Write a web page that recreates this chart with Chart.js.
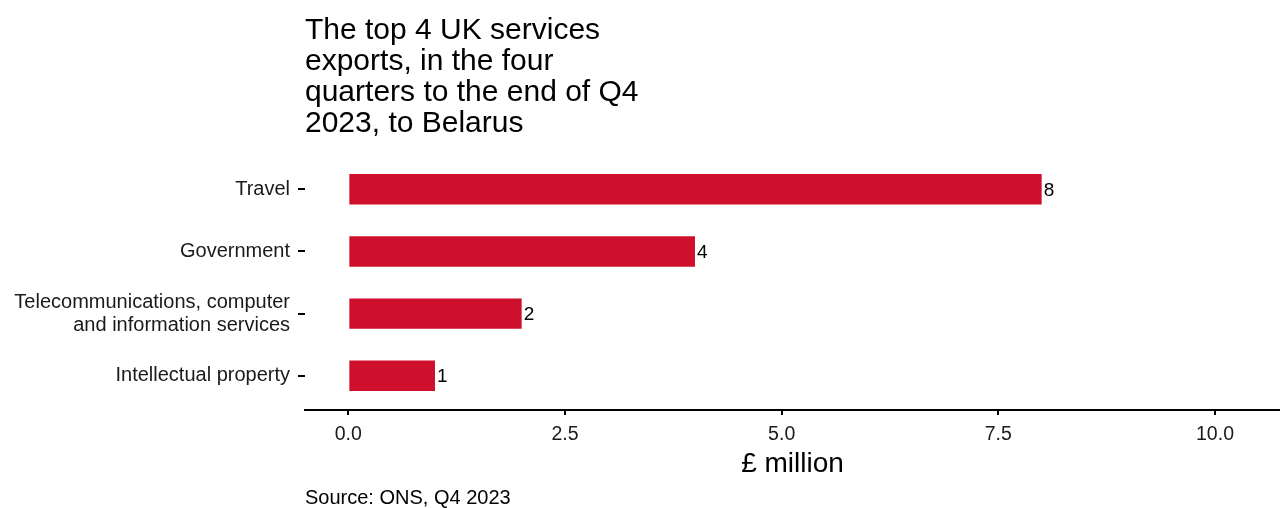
<!DOCTYPE html>
<html>
<head>
<meta charset="utf-8">
<script src="https://cdn.jsdelivr.net/npm/chart.js@4"></script>
<style>
  html, body { margin: 0; padding: 0; background: #fff; }
  #wrap { width: 1280px; height: 508px; }
</style>
</head>
<body>
<div id="wrap"><canvas id="myChart" width="1280" height="508"></canvas></div>
<script>
const categories = [
    'Travel',
    'Government',
    ['Telecommunications, computer', 'and information services'],
    'Intellectual property'
];
const values = [8, 4, 2, 1];
const xTicks = [0, 2.5, 5, 7.5, 10];
const titleLines = [
    'The top 4 UK services',
    'exports, in the four',
    'quarters to the end of Q4',
    '2023, to Belarus'
];
const sourceText = 'Source: ONS, Q4 2023';

const FONT = "'Liberation Sans', Arial, sans-serif";
const BAR_COLOR = '#cf102d';

// numbers at the end of each bar
const barLabels = {
    id: 'barLabels',
    afterDatasetsDraw(chart) {
        const ctx = chart.ctx;
        const meta = chart.getDatasetMeta(0);
        ctx.save();
        ctx.font = '19px ' + FONT;
        ctx.fillStyle = '#000';
        ctx.textAlign = 'left';
        ctx.textBaseline = 'middle';
        meta.data.forEach((bar, i) => {
            ctx.fillText(String(values[i]), bar.x + 2, bar.y + 1);
        });
        ctx.restore();
    }
};

const ctx = document.getElementById('myChart');

new Chart(ctx, {
    type: 'bar',
    data: {
        datasets: [{
            data: values.map((v, i) => ({ x: v, y: i })),
            backgroundColor: BAR_COLOR,
            borderWidth: 0,
            barPercentage: 0.49,
            categoryPercentage: 1
        }]
    },
    options: {
        indexAxis: 'y',
        responsive: false,
        animation: false,
        layout: { padding: 0 },
        plugins: {
            legend: { display: false },
            tooltip: { enabled: false },
            title: {
                display: true,
                text: titleLines,
                align: 'start',
                fullSize: false,
                color: '#000',
                font: { family: FONT, size: 30, weight: 'normal', lineHeight: 1.033 },
                padding: { top: 15.5, bottom: 12.5 }
            },
            subtitle: {
                display: true,
                text: sourceText,
                position: 'bottom',
                align: 'start',
                fullSize: false,
                color: '#000',
                font: { family: FONT, size: 20, weight: 'normal', lineHeight: 1.0 },
                padding: { top: 7, bottom: 0 }
            }
        },
        scales: {
            x: {
                type: 'linear',
                min: -0.5,
                max: 10.75,
                offset: false,
                afterBuildTicks: (scale) => {
                    scale.ticks = xTicks.map(v => ({ value: v }));
                },
                ticks: {
                    color: '#1a1a1a',
                    font: { family: FONT, size: 19.5 },
                    padding: 8,
                    maxRotation: 0,
                    callback: (v) => Number(v).toFixed(1)
                },
                grid: {
                    offset: false,
                    drawOnChartArea: false,
                    drawTicks: true,
                    tickLength: 5,
                    color: '#000',
                    lineWidth: 2
                },
                border: { display: true, color: '#000', width: 2 },
                title: {
                    display: true,
                    text: '£ million',
                    color: '#000',
                    font: { family: FONT, size: 28, lineHeight: 1.2 },
                    padding: { top: -7, bottom: 0 }
                }
            },
            y: {
                type: 'linear',
                reverse: true,
                offset: false,
                min: -0.6,
                max: 3.55,
                afterBuildTicks: (scale) => {
                    scale.ticks = categories.map((c, i) => ({ value: i }));
                },
                afterFit: (scale) => {
                    scale.width = 305;
                },
                ticks: {
                    color: '#1a1a1a',
                    font: { family: FONT, size: 20, lineHeight: 1.15 },
                    padding: 8,
                    callback: (v) => categories[v]
                },
                grid: {
                    offset: false,
                    drawOnChartArea: false,
                    drawTicks: true,
                    tickLength: 7,
                    color: '#000',
                    lineWidth: 2
                },
                border: { display: false }
            }
        }
    },
    plugins: [barLabels]
});
</script>
</body>
</html>
